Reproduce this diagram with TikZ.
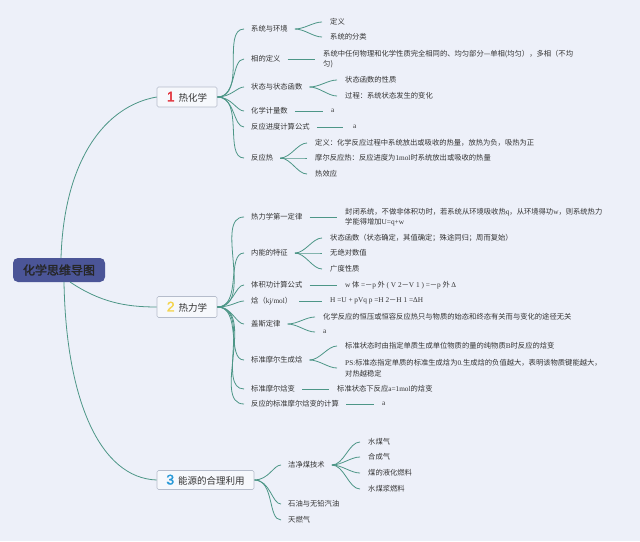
\documentclass[tikz,border=0pt]{standalone}
\usepackage{fontspec}
\setmainfont{Noto Sans CJK SC}
\newfontfamily\lat{Liberation Serif}
\newfontfamily\rootfont[AutoFakeBold=2]{Noto Sans CJK SC}
\newfontfamily\numfont[AutoFakeBold=2]{Liberation Sans}
\definecolor{bg}{HTML}{EDF0F9}
\definecolor{lc}{RGB}{77,150,135}
\definecolor{txt}{HTML}{333333}
\definecolor{rootfill}{HTML}{4B5597}
\definecolor{boxfill}{HTML}{F6F8FC}
\definecolor{boxline}{HTML}{B5BCCB}
\definecolor{nred}{HTML}{E2313B}
\definecolor{nyel}{HTML}{F4D44C}
\definecolor{nblu}{HTML}{2A9AD8}
\newcommand{\topnum}[2]{{\color{#1}\numfont\bfseries\fontsize{14}{14}\selectfont #2}}
\tikzset{
  it/.style={anchor=west, inner sep=0pt, text=txt, font=\fontsize{7.3}{10.5}\selectfont, align=left},
  topic/.style={draw=boxline, fill=boxfill, rounded corners=1.5pt, line width=0.6pt, inner sep=0pt, text=txt, font=\fontsize{9.5}{11}\selectfont},
  rootbox/.style={fill=rootfill, rounded corners=5pt, inner sep=0pt, minimum width=92pt, minimum height=24pt, font=\rootfont\bfseries\fontsize{12}{14}\selectfont, text=black!85},
  ln/.style={draw=lc, line width=0.8pt, shorten <=7pt, shorten >=8pt},
  bl/.style={draw=lc, line width=0.8pt, shorten >=7pt},
  rl/.style={draw=lc, line width=0.8pt}
}
\begin{document}
\begin{tikzpicture}[x=1pt,y=-1pt]
\fill[bg] (0,0) rectangle (640,541);
\useasboundingbox (0,0) rectangle (640,541);

% root
\node[rootbox] (root) at (59,270) {化学思维导图};

% topics
\node[topic, minimum width=60pt, minimum height=20pt] (t1) at (187,97) {\topnum{nred}{1}\hspace{4pt}热化学};
\node[topic, minimum width=60pt, minimum height=21pt] (t2) at (187,307) {\topnum{nyel}{2}\hspace{4pt}热力学};
\node[topic, minimum width=97pt, minimum height=19pt] (t3) at (205.5,480) {\topnum{nblu}{3}\hspace{4pt}能源的合理利用};

% root connectors
\coordinate (r1) at (61,258);
\coordinate (r2) at (70,282);
\coordinate (r3) at (64,282);
\draw[rl] (r1) .. controls (64,160) and (105,106) .. (t1.west);
\draw[rl] (r2) .. controls (100,302) and (125,307) .. (t2.west);
\draw[rl] (r3) .. controls (66,400) and (100,478) .. (t3.west);

% ===== topic 1 =====
\node[it] (s11) at (251,29) {系统与环境};
\node[it] (c111) at (330,22) {定义};
\node[it] (c112) at (330,37) {系统的分类};
\node[it] (s12) at (251,59) {相的定义};
\node[it] (c121) at (323,59) {系统中任何物理和化学性质完全相同的、均匀部分—单相(均匀），多相（不均\\匀)};
\node[it] (s13) at (251,87) {状态与状态函数};
\node[it] (c131) at (345,80) {状态函数的性质};
\node[it] (c132) at (345,96) {过程：系统状态发生的变化};
\node[it] (s14) at (251,111) {化学计量数};
\node[it] (c141) at (331,111) {{\lat a}};
\node[it] (s15) at (251,127) {反应进度计算公式};
\node[it] (c151) at (353,127) {{\lat a}};
\node[it] (s16) at (251,158) {反应热};
\node[it] (c161) at (315,143) {定义：化学反应过程中系统放出或吸收的热量，放热为负，吸热为正};
\node[it] (c162) at (315,158) {摩尔反应热：反应进度为{\lat 1mol}时系统放出或吸收的热量};
\node[it] (c163) at (315,174) {热效应};

\foreach \s in {s11,s12,s13,s14,s15,s16}
  \draw[bl] (t1.east) to[out=0,in=180] (\s.west);
\draw[ln] (s11.east) to[out=0,in=180] (c111.west);
\draw[ln] (s11.east) to[out=0,in=180] (c112.west);
\draw[ln] (s12.east) -- (s12.east -| c121.west);
\draw[ln] (s13.east) to[out=0,in=180] (c131.west);
\draw[ln] (s13.east) to[out=0,in=180] (c132.west);
\draw[ln] (s14.east) -- (c141.west);
\draw[ln, shorten >=10pt] (s15.east) -- (c151.west);
\draw[ln] (s16.east) to[out=0,in=180] (c161.west);
\draw[ln] (s16.east) to[out=0,in=180] (c162.west);
\draw[ln] (s16.east) to[out=0,in=180] (c163.west);

% ===== topic 2 =====
\node[it] (s21) at (251,217) {热力学第一定律};
\node[it] (c211) at (345,217) {封闭系统，不做非体积功时，若系统从环境吸收热{\lat q}，从环境得功{\lat w}，则系统热力\\学能得增加{\lat U=q+w}};
\node[it] (s22) at (251,253) {内能的特征};
\node[it] (c221) at (330,238) {状态函数（状态确定，其值确定；殊途同归；周而复始）};
\node[it] (c222) at (330,253) {无绝对数值};
\node[it] (c223) at (330,269) {广度性质};
\node[it] (s23) at (251,285) {体积功计算公式};
\node[it] (c231) at (345,285) {{\lat w} 体 {\lat =}－{\lat p} 外 {\lat ( V 2}－{\lat V 1 ) =}－{\lat p} 外 {\lat Δ}};
\node[it] (s24) at (251,301) {焓（{\lat kj/mol}）};
\node[it] (c241) at (330,301) {{\lat H =U + pVq p =H 2}－{\lat H 1 =ΔH}};
\node[it] (s25) at (251,324) {盖斯定律};
\node[it] (c251) at (323,317) {化学反应的恒压或恒容反应热只与物质的始态和终态有关而与变化的途径无关};
\node[it] (c252) at (323,332) {{\lat a}};
\node[it] (s26) at (251,360) {标准摩尔生成焓};
\node[it] (c261) at (345,346) {标准状态时由指定单质生成单位物质的量的纯物质{\lat B}时反应的焓变};
\node[it] (c262) at (345,368) {{\lat PS:}标准态指定单质的标准生成焓为{\lat 0.}生成焓的负值越大，表明该物质键能越大，\\对热越稳定};
\node[it] (s27) at (251,389) {标准摩尔焓变};
\node[it] (c271) at (337,389) {标准状态下反应{\lat a=1mol}的焓变};
\node[it] (s28) at (251,404) {反应的标准摩尔焓变的计算};
\node[it] (c281) at (382,404) {{\lat a}};

\foreach \s in {s21,s22,s23,s24,s25,s26,s27,s28}
  \draw[bl] (t2.east) to[out=0,in=180] (\s.west);
\draw[ln] (s21.east) -- (c211.west);
\draw[ln] (s22.east) to[out=0,in=180] (c221.west);
\draw[ln] (s22.east) to[out=0,in=180] (c222.west);
\draw[ln] (s22.east) to[out=0,in=180] (c223.west);
\draw[ln] (s23.east) -- (c231.west);
\draw[ln] (s24.east) -- (c241.west);
\draw[ln] (s25.east) to[out=0,in=180] (c251.west);
\draw[ln] (s25.east) to[out=0,in=180] (c252.west);
\draw[ln] (s26.east) to[out=0,in=180] (c261.west);
\draw[ln] (s26.east) to[out=0,in=180] (c262.west);
\draw[ln] (s27.east) -- (c271.west);
\draw[ln] (s28.east) -- (c281.west);

% ===== topic 3 =====
\node[it] (s31) at (288,465) {洁净煤技术};
\node[it] (c311) at (368,442) {水煤气};
\node[it] (c312) at (368,457) {合成气};
\node[it] (c313) at (368,473) {煤的液化燃料};
\node[it] (c314) at (368,489) {水煤浆燃料};
\node[it] (s32) at (288,504) {石油与无铅汽油};
\node[it] (s33) at (288,520) {天燃气};

\foreach \s in {s31,s32,s33}
  \draw[bl] (t3.east) to[out=0,in=180] (\s.west);
\foreach \c in {c311,c312,c313,c314}
  \draw[ln] (s31.east) to[out=0,in=180] (\c.west);
\end{tikzpicture}
\end{document}
